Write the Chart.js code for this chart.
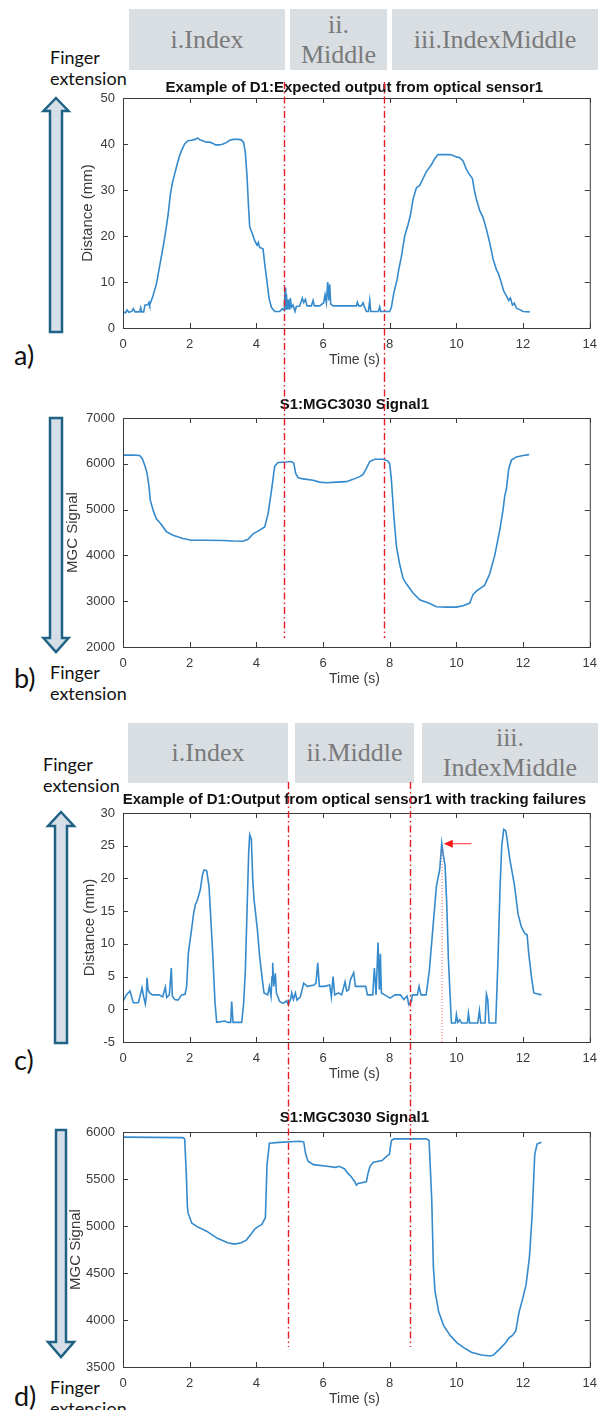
<!DOCTYPE html>
<html>
<head>
<meta charset="utf-8">
<script src="https://cdn.jsdelivr.net/npm/chart.js@4.4.1/dist/chart.umd.min.js"></script>
<style>
  body { margin: 0; width: 606px; height: 1410px; position: relative; background: #fff; overflow: hidden; font-family: Lato, sans-serif; }
  .box { position: absolute; background: #d9dee3; color: #7a7a7a; font-family: 'Liberation Serif', serif; font-size: 26px; line-height: 30px;
         display: flex; align-items: center; justify-content: center; text-align: center; }
  .side { position: absolute; font-size: 18px; line-height: 21px; color: #111; }
  .tag { position: absolute; font-size: 27px; line-height: 30px; color: #111; }
  canvas { position: absolute; left: 0; }
  svg { position: absolute; left: 0; top: 0; }
</style>
</head>
<body>

<svg width="606" height="1410">
  <g fill="#d6dfe7" stroke="#1f6283" stroke-width="2.5" stroke-linejoin="miter">
    <polygon points="56,98 68.5,111 62,111 62,332 50,332 50,111 43.5,111"/>
    <polygon points="50,418 62,418 62,638 68.5,638 56,652 43.5,638 50,638"/>
    <polygon points="61,812 74,826 67,826 67,1043 55,1043 55,826 48,826"/>
    <polygon points="56,1130 66,1130 66,1342 74,1342 61,1357 48,1342 56,1342"/>
  </g>
</svg>

<div class="box" style="left:129px; top:9px; width:156px; height:61px;">i.Index</div>
<div class="box" style="left:290px; top:9px; width:97px; height:61px;">ii.<br>Middle</div>
<div class="box" style="left:392px; top:9px; width:206px; height:61px;">iii.IndexMiddle</div>

<div class="box" style="left:128px; top:723px; width:160px; height:60px;">i.Index</div>
<div class="box" style="left:295px; top:723px; width:119px; height:60px;">ii.Middle</div>
<div class="box" style="left:422px; top:723px; width:176px; height:60px;">iii.<br>IndexMiddle</div>

<div class="side" style="left:50px; top:47px;">Finger<br>extension</div>
<div class="side" style="left:50px; top:662px;">Finger<br>extension</div>
<div class="side" style="left:43px; top:754px;">Finger<br>extension</div>
<div class="side" style="left:50px; top:1377px;">Finger<br>extension</div>

<div class="tag" style="left:14px; top:340px;">a)</div>
<div class="tag" style="left:14px; top:663px;">b)</div>
<div class="tag" style="left:14px; top:1045px;">c)</div>
<div class="tag" style="left:14px; top:1381px;">d)</div>

<canvas id="panelA" width="606" height="300" style="top:75px"></canvas>
<canvas id="panelB" width="606" height="335" style="top:375px"></canvas>
<canvas id="panelC" width="606" height="305" style="top:780px"></canvas>
<canvas id="panelD" width="606" height="325" style="top:1085px"></canvas>

<script>
// a) optical sensor distance, expected output
const timeA = [0, 0.08, 0.12, 0.18, 0.26, 0.31, 0.36, 0.5, 0.53, 0.56, 0.62, 0.66, 0.74, 0.78, 0.8, 0.85, 0.9,
  1.0, 1.1, 1.2, 1.27, 1.35, 1.42, 1.48, 1.55, 1.62, 1.7, 1.78, 1.85, 1.95, 2.05, 2.16, 2.24, 2.3, 2.4, 2.5,
  2.6, 2.7, 2.78, 2.9, 3.0, 3.1, 3.2, 3.3, 3.45, 3.55, 3.62, 3.67, 3.72, 3.76, 3.8, 3.88, 3.95, 4.02, 4.06,
  4.1, 4.2, 4.25, 4.32, 4.38, 4.45, 4.55, 4.7, 4.78, 4.84, 4.86, 4.88, 4.9, 4.93, 4.96, 4.99, 5.02, 5.05,
  5.1, 5.16, 5.2, 5.3, 5.38, 5.42, 5.47, 5.52, 5.65, 5.7, 5.74, 5.9, 6.02, 6.06, 6.1, 6.14, 6.17, 6.2, 6.23,
  6.3, 6.5, 6.7, 6.9, 7.0, 7.03, 7.07, 7.15, 7.2, 7.24, 7.3, 7.36, 7.4, 7.43, 7.55, 7.66, 7.7, 7.73, 7.9,
  8.0, 8.05, 8.12, 8.22, 8.27, 8.35, 8.45, 8.55, 8.62, 8.7, 8.74, 8.8, 8.9, 9.0, 9.1, 9.25, 9.35, 9.45, 9.6,
  9.8, 9.9, 10.0, 10.1, 10.2, 10.3, 10.38, 10.48, 10.55, 10.6, 10.7, 10.8, 10.9, 11.0, 11.1, 11.2, 11.25,
  11.32, 11.42, 11.5, 11.57, 11.62, 11.68, 11.74, 11.8, 11.9, 12.0, 12.2];
const distA = [3.5, 3.3, 3.9, 3.4, 3.6, 4.2, 3.5, 3.5, 4.4, 3.5, 3.5, 5.0, 5.0, 5.6, 5.0, 6.0, 7.0,
  9.5, 13.5, 17.5, 20.5, 24.5, 29.0, 31.5, 33.5, 35.5, 37.5, 39.0, 40.0, 40.7, 40.8, 41.0, 41.3, 40.9, 40.7, 40.4,
  40.4, 40.1, 39.8, 39.8, 40.0, 40.3, 40.8, 41.0, 41.0, 40.9, 40.3, 38.0, 33.0, 27.0, 22.0, 20.5, 19.0, 18.0, 18.6,
  17.5, 17.2, 14.0, 10.0, 6.5, 4.5, 3.6, 3.6, 4.2, 3.8, 8.8, 4.0, 7.5, 4.0, 6.2, 4.0, 6.5, 4.5,
  5.0, 3.6, 4.7, 4.8, 6.5, 5.5, 6.2, 4.8, 4.8, 6.0, 4.8, 4.8, 5.5, 7.2, 5.5, 10.0, 6.0, 9.5, 5.2,
  4.8, 4.8, 4.8, 4.8, 4.8, 5.6, 4.8, 4.8, 5.5, 4.6, 3.6, 3.6, 6.0, 3.6, 3.6, 3.6, 4.6, 3.6, 3.6,
  3.6, 4.5, 7.5, 10.5, 12.7, 15.5, 20.0, 22.5, 24.5, 28.0, 29.0, 30.5, 31.0, 32.5, 34.0, 35.5, 36.8, 37.7, 37.7,
  37.7, 37.5, 37.2, 37.0, 36.3, 34.5, 33.5, 32.5, 29.5, 28.0, 25.5, 24.0, 21.5, 18.5, 15.0, 12.7, 12.0,
  10.5, 8.0, 7.0, 6.0, 6.5, 5.0, 5.4, 4.3, 4.0, 3.6, 3.5];

// b) MGC3030 signal for the same recording
const timeB = [0, 0.3, 0.5, 0.58, 0.66, 0.72, 0.78, 0.82, 0.92, 1.0, 1.12, 1.3, 1.5, 1.8, 2.05, 2.5, 3.0, 3.3,
  3.6, 3.75, 3.9, 4.05, 4.25, 4.35, 4.45, 4.55, 4.65, 4.9, 5.05, 5.12, 5.18, 5.25, 5.4, 5.7, 5.9, 6.1, 6.4,
  6.7, 6.9, 7.1, 7.2, 7.3, 7.4, 7.55, 7.8, 7.95, 8.0, 8.05, 8.12, 8.2, 8.3, 8.4, 8.5, 8.7, 8.9, 9.2, 9.4,
  9.7, 10.0, 10.2, 10.4, 10.5, 10.6, 10.85, 11.0, 11.15, 11.3, 11.4, 11.45, 11.5, 11.57, 11.65, 11.8, 12.0, 12.18];
const signalB = [6190, 6190, 6180, 6110, 5950, 5800, 5500, 5200, 4950, 4800, 4700, 4520, 4440, 4370, 4330, 4330, 4325, 4315,
  4310, 4350, 4470, 4530, 4620, 4900, 5400, 5950, 6030, 6040, 6050, 6020, 5790, 5700, 5670, 5640, 5600, 5585, 5600,
  5610, 5660, 5720, 5770, 5900, 6050, 6100, 6100, 6060, 6000, 5650, 4900, 4200, 3800, 3500, 3380, 3180, 3030, 2950, 2880,
  2870, 2870, 2900, 2960, 3150, 3220, 3350, 3600, 4000, 4550, 5000, 5300, 5450, 5900, 6080, 6150, 6180, 6200];

// c) optical sensor distance with tracking failures
const timeC = [0, 0.1, 0.21, 0.26, 0.31, 0.46, 0.52, 0.57, 0.62, 0.67, 0.7, 0.72, 0.75, 0.8, 0.88, 1.08, 1.19,
  1.27, 1.31, 1.39, 1.45, 1.48, 1.55, 1.65, 1.76, 1.86, 1.91, 1.96, 2.07, 2.12, 2.17, 2.22, 2.32, 2.38, 2.43,
  2.51, 2.58, 2.69, 2.76, 2.81, 3.05, 3.15, 3.23, 3.26, 3.3, 3.56, 3.62, 3.67, 3.72, 3.77, 3.8, 3.85, 3.89,
  3.93, 3.98, 4.03, 4.1, 4.18, 4.23, 4.34, 4.39, 4.44, 4.47, 4.49, 4.52, 4.57, 4.6, 4.7, 4.8, 4.91, 4.96,
  5.03, 5.06, 5.11, 5.17, 5.22, 5.32, 5.42, 5.53, 5.73, 5.79, 5.84, 5.89, 6.04, 6.2, 6.25, 6.3, 6.35, 6.46,
  6.56, 6.66, 6.71, 6.77, 6.82, 6.92, 6.97, 7.18, 7.28, 7.33, 7.49, 7.54, 7.59, 7.65, 7.69, 7.72, 7.75, 7.85,
  8.01, 8.16, 8.32, 8.42, 8.52, 8.57, 8.65, 8.68, 8.83, 8.88, 8.94, 9.09, 9.14, 9.19, 9.3, 9.4, 9.5, 9.56,
  9.61, 9.66, 9.71, 9.76, 9.85, 9.97, 10.0, 10.04, 10.1, 10.15, 10.33, 10.36, 10.4, 10.64, 10.69, 10.73, 10.86,
  10.9, 10.94, 10.98, 11.18, 11.25, 11.31, 11.36, 11.42, 11.48, 11.52, 11.6, 11.74, 11.85, 11.95, 12.05, 12.12,
  12.17, 12.25, 12.32, 12.55];
const distC = [1.2, 2.2, 2.8, 1.9, 1.0, 1.0, 2.2, 3.3, 1.9, 0.8, 2.0, 4.8, 3.0, 2.5, 2.2, 2.2, 1.9,
  3.4, 1.8, 2.2, 6.3, 2.0, 1.5, 1.4, 2.2, 2.3, 3.5, 8.6, 12.7, 14.7, 16.0, 16.5, 18.3, 20.5, 21.3,
  21.2, 18.8, 8.6, 1.0, -2.0, -1.8, -2.0, -2.0, 1.2, -2.0, -2.0, 1.0, 6.0, 15.0, 24.0, 26.7, 26.0, 20.0,
  16.8, 14.5, 12.2, 8.0, 4.5, 2.5, 2.2, 3.5, 2.0, 5.0, 7.1, 3.5, 5.5, 2.5, 1.2, 0.9, 1.3, 0.7,
  1.6, 2.5, 1.5, 2.5, 1.4, 1.9, 4.0, 3.5, 3.7, 4.0, 7.1, 3.5, 3.5, 3.7, 1.9, 5.0, 2.2, 2.5,
  2.2, 4.2, 2.8, 3.0, 4.5, 5.6, 3.5, 3.5, 3.5, 2.2, 2.2, 6.3, 2.2, 10.2, 3.0, 8.5, 2.5, 2.2,
  1.7, 2.2, 2.2, 1.5, 2.0, 0.7, 1.2, 2.2, 2.2, 3.5, 2.2, 2.2, 4.0, 6.0, 12.7, 18.8, 21.4, 25.4,
  23.5, 22.0, 16.2, 7.6, -2.1, -2.1, -0.8, -2.0, -1.6, -2.1, -2.1, -0.6, -2.1, -2.1, -0.2, -2.1, -2.1,
  2.3, 1.5, -2.1, -2.1, 8.0, 18.8, 25.0, 27.5, 27.3, 26.0, 23.0, 19.0, 14.5, 12.6, 11.6, 11.4,
  8.5, 5.0, 2.5, 2.2];

// d) MGC3030 signal for the tracking-failure recording
const timeD = [0, 0.9, 1.8, 1.85, 1.9, 1.93, 1.95, 2.06, 2.21, 2.52, 2.83, 3.14, 3.34, 3.55, 3.7, 3.86, 3.96,
  4.06, 4.16, 4.27, 4.32, 4.39, 4.68, 5.29, 5.42, 5.48, 5.55, 5.71, 6.12, 6.38, 6.48, 6.64, 6.74, 6.84, 6.95,
  7.0, 7.05, 7.3, 7.35, 7.41, 7.51, 7.77, 7.92, 7.99, 8.05, 8.13, 9.1, 9.18, 9.26, 9.31, 9.36, 9.47, 9.62,
  9.83, 10.03, 10.24, 10.45, 10.75, 11.01, 11.11, 11.27, 11.47, 11.58, 11.68, 11.78, 11.88, 11.99, 12.09,
  12.19, 12.27, 12.35, 12.42, 12.55];
const signalD = [5945, 5943, 5940, 5927, 5544, 5215, 5142, 5033, 4996, 4942, 4869, 4821, 4807, 4821, 4850, 4923, 4971,
  4996, 5015, 5088, 5653, 5880, 5890, 5901, 5895, 5763, 5690, 5653, 5635, 5624, 5635, 5610, 5562, 5526, 5471,
  5434, 5453, 5471, 5562, 5635, 5679, 5697, 5745, 5763, 5909, 5927, 5927, 5909, 5288, 4558, 4303, 4084, 3938,
  3828, 3755, 3701, 3657, 3628, 3617, 3628, 3682, 3755, 3810, 3836, 3883, 4084, 4230, 4376,
  4668, 5106, 5763, 5872, 5890];

// gesture boundaries (s)
const boundsAB = [4.82, 7.82];
const boundsCD = [4.95, 8.62];

// tracking-failure peak marker in c): arrow tail/head and dotted drop line, [time, distance]
const peakArrowC = [[10.45, 25.3], [9.62, 25.3]];
const peakDropC = [[9.57, 24.5], [9.57, -5]];

const LINE_COLOR = 'rgb(52, 138, 204)';
const MARK_COLOR = 'rgb(232, 28, 36)';
const TICK_COLOR = '#3a3a3a';
const TICK_FONT = { family: 'Liberation Sans', size: 13 };

const panelDecor = {
  id: 'panelDecor',
  afterDatasetsDraw(chart, args, opts) {
    const { ctx, chartArea: a, scales: { x, y } } = chart;
    ctx.save();
    ctx.strokeStyle = '#3a3a3a';
    ctx.lineWidth = 1;
    ctx.strokeRect(a.left + 0.5, a.top + 0.5, a.width, a.height);
    // MATLAB-style ticks pointing into the box on all four sides
    ctx.beginPath();
    x.ticks.forEach(t => {
      const px = Math.round(x.getPixelForValue(t.value)) + 0.5;
      ctx.moveTo(px, a.bottom); ctx.lineTo(px, a.bottom - 5);
      ctx.moveTo(px, a.top); ctx.lineTo(px, a.top + 5);
    });
    y.ticks.forEach(t => {
      const py = Math.round(y.getPixelForValue(t.value)) + 0.5;
      ctx.moveTo(a.left, py); ctx.lineTo(a.left + 5, py);
      ctx.moveTo(a.right, py); ctx.lineTo(a.right - 5, py);
    });
    ctx.stroke();

    const cx = (a.left + a.right) / 2;
    ctx.textAlign = 'center';
    ctx.textBaseline = 'middle';
    ctx.fillStyle = '#111';
    ctx.font = 'bold 15px "Liberation Sans"';
    ctx.fillText(opts.title, cx - 2, a.top - opts.titleGap);

    ctx.fillStyle = TICK_COLOR;
    ctx.font = '14px "Liberation Sans"';
    ctx.fillText('Time (s)', cx - 2, a.bottom + 32);
    ctx.font = '15px "Liberation Sans"';
    ctx.translate(opts.yTitleX, (a.top + a.bottom) / 2);
    ctx.rotate(-Math.PI / 2);
    ctx.fillText(opts.yTitle, 0, 0);
    ctx.restore();
  },
  afterDraw(chart, args, opts) {
    const { ctx, scales: { x, y } } = chart;
    ctx.save();
    ctx.strokeStyle = MARK_COLOR;
    ctx.lineWidth = 1.4;
    ctx.setLineDash([7, 3, 1.5, 3]);
    opts.bounds.forEach(t => {
      const px = Math.round(x.getPixelForValue(t)) + 0.5;
      ctx.beginPath();
      ctx.moveTo(px, opts.boundTop);
      ctx.lineTo(px, opts.boundBottom);
      ctx.stroke();
    });
    if (opts.arrow) {
      const [tail, head] = opts.arrow.map(p => [x.getPixelForValue(p[0]), y.getPixelForValue(p[1])]);
      ctx.setLineDash([]);
      ctx.lineWidth = 1;
      ctx.strokeStyle = 'rgb(255, 40, 40)';
      ctx.beginPath();
      ctx.moveTo(tail[0], tail[1]);
      ctx.lineTo(head[0] + 8, head[1]);
      ctx.stroke();
      ctx.fillStyle = 'rgb(255, 20, 20)';
      ctx.beginPath();
      ctx.moveTo(head[0], head[1]);
      ctx.lineTo(head[0] + 9, head[1] - 4);
      ctx.lineTo(head[0] + 9, head[1] + 4);
      ctx.closePath();
      ctx.fill();
    }
    if (opts.drop) {
      const [p0, p1] = opts.drop.map(p => [x.getPixelForValue(p[0]), y.getPixelForValue(p[1])]);
      ctx.strokeStyle = 'rgba(230, 60, 60, 0.8)';
      ctx.lineWidth = 1;
      ctx.setLineDash([1, 2]);
      ctx.beginPath();
      ctx.moveTo(p0[0], p0[1]);
      ctx.lineTo(p1[0], p1[1]);
      ctx.stroke();
    }
    ctx.restore();
  }
};

function makePanel(id, cfg) {
  const canvas = document.getElementById(id);
  return new Chart(canvas.getContext('2d'), {
    type: 'line',
    data: {
      datasets: [{
        data: cfg.times.map((t, i) => ({ x: t, y: cfg.values[i] })),
        borderColor: LINE_COLOR,
        borderWidth: 1.6,
        pointRadius: 0,
        tension: 0,
        fill: false
      }]
    },
    options: {
      responsive: false,
      animation: false,
      events: [],
      layout: { padding: { top: cfg.padTop, right: 8, left: 0, bottom: 0 } },
      scales: {
        x: {
          type: 'linear', min: 0, max: 14,
          afterFit: s => { s.height = cfg.xAxisHeight; },
          grid: { display: false, drawTicks: false },
          border: { display: false },
          ticks: { stepSize: 2, padding: 9, color: TICK_COLOR, font: TICK_FONT, maxRotation: 0, autoSkip: false,
                   callback: v => String(v) }
        },
        y: {
          type: 'linear', min: cfg.yMin, max: cfg.yMax,
          afterFit: s => { s.width = 123; },
          grid: { display: false, drawTicks: false },
          border: { display: false },
          ticks: { stepSize: cfg.yStep, padding: 8, color: TICK_COLOR, font: TICK_FONT, autoSkip: false,
                   callback: v => String(v) }
        }
      },
      plugins: {
        legend: { display: false },
        tooltip: { enabled: false },
        panelDecor: {
          title: cfg.title, titleGap: cfg.titleGap,
          yTitle: cfg.yTitle, yTitleX: cfg.yTitleX,
          bounds: cfg.bounds, boundTop: cfg.boundTop, boundBottom: cfg.boundBottom,
          arrow: cfg.arrow, drop: cfg.drop
        }
      }
    },
    plugins: [panelDecor]
  });
}

makePanel('panelA', {
  times: timeA, values: distA, yMin: 0, yMax: 50, yStep: 10,
  padTop: 23, xAxisHeight: 47,
  title: 'Example of D1:Expected output from optical sensor1', titleGap: 10,
  yTitle: 'Distance (mm)', yTitleX: 88,
  bounds: boundsAB, boundTop: 7, boundBottom: 300
});

makePanel('panelB', {
  times: timeB, values: signalB, yMin: 2000, yMax: 7000, yStep: 1000,
  padTop: 43, xAxisHeight: 63,
  title: 'S1:MGC3030 Signal1', titleGap: 13,
  yTitle: 'MGC Signal', yTitleX: 73,
  bounds: boundsAB, boundTop: 0, boundBottom: 263
});

makePanel('panelC', {
  times: timeC, values: distC, yMin: -5, yMax: 30, yStep: 5,
  padTop: 33, xAxisHeight: 43,
  title: 'Example of D1:Output from optical sensor1 with tracking failures', titleGap: 13,
  yTitle: 'Distance (mm)', yTitleX: 90,
  bounds: boundsCD, boundTop: 2, boundBottom: 305,
  arrow: peakArrowC, drop: peakDropC
});

makePanel('panelD', {
  times: timeD, values: signalD, yMin: 3500, yMax: 6000, yStep: 500,
  padTop: 47, xAxisHeight: 43,
  title: 'S1:MGC3030 Signal1', titleGap: 14,
  yTitle: 'MGC Signal', yTitleX: 76,
  bounds: boundsCD, boundTop: 0, boundBottom: 262
});
</script>
</body>
</html>
